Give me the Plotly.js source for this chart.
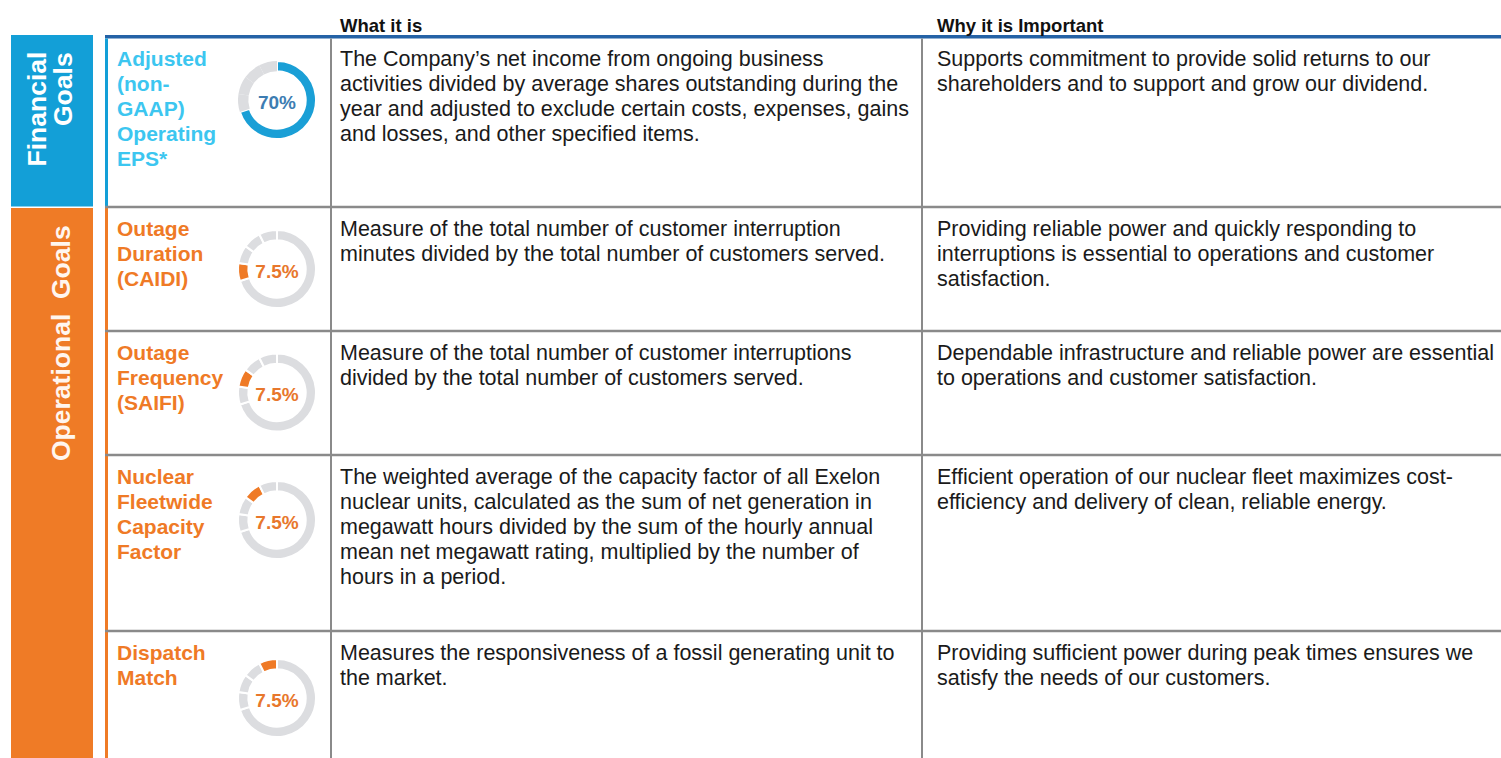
<!DOCTYPE html>
<html><head><meta charset="utf-8">
<script src="https://cdn.plot.ly/plotly-3.0.1.min.js"></script>
<style>html,body{margin:0;padding:0;background:#fff;}#chart{width:1501px;height:758px;}</style>
</head><body><div id="chart"></div>
<script>
// ---------- DATA ----------
const groups = ['Financial Goals', 'Operational Goals'];
const headers = ['What it is', 'Why it is Important'];
const metrics = ['Adjusted (non-GAAP) Operating EPS*', 'Outage Duration (CAIDI)', 'Outage Frequency (SAIFI)', 'Nuclear Fleetwide Capacity Factor', 'Dispatch Match'];
const weights = [70, 7.5, 7.5, 7.5, 7.5];
const weightLabels = ['70%', '7.5%', '7.5%', '7.5%', '7.5%'];
const metricGroup = [0, 1, 1, 1, 1];
const labelLines = [
  ['Adjusted', '(non-', 'GAAP)', 'Operating', 'EPS*'],
  ['Outage', 'Duration', '(CAIDI)'],
  ['Outage', 'Frequency', '(SAIFI)'],
  ['Nuclear', 'Fleetwide', 'Capacity', 'Factor'],
  ['Dispatch', 'Match']
];
const whatLines = [
  ['The Company\u2019s net income from ongoing business', 'activities divided by average shares outstanding during the', 'year and adjusted to exclude certain costs, expenses, gains', 'and losses, and other specified items.'],
  ['Measure of the total number of customer interruption', 'minutes divided by the total number of customers served.'],
  ['Measure of the total number of customer interruptions', 'divided by the total number of customers served.'],
  ['The weighted average of the capacity factor of all Exelon', 'nuclear units, calculated as the sum of net generation in', 'megawatt hours divided by the sum of the hourly annual', 'mean net megawatt rating, multiplied by the number of', 'hours in a period.'],
  ['Measures the responsiveness of a fossil generating unit to', 'the market.']
];
const whyLines = [
  ['Supports commitment to provide solid returns to our', 'shareholders and to support and grow our dividend.'],
  ['Providing reliable power and quickly responding to', 'interruptions is essential to operations and customer', 'satisfaction.'],
  ['Dependable infrastructure and reliable power are essential', 'to operations and customer satisfaction.'],
  ['Efficient operation of our nuclear fleet maximizes cost-', 'efficiency and delivery of clean, reliable energy.'],
  ['Providing sufficient power during peak times ensures we', 'satisfy the needs of our customers.']
];

// ---------- LAYOUT / STYLE ----------
const W = 1501, H = 758;
const px = x => x / W;
const py = y => 1 - y / H;
const FONT = '"Liberation Sans", Arial, sans-serif';
const groupColor = ['#139fd7', '#ef7b26'];
const labelColor = ['#3cc6f0', '#ef7a26'];
const donutAccent = ['#1a9fd6', '#ef7a26'];
const donutText = ['#3d7db2', '#e8772c'];
const GRAY = '#dcdde0';
const LINE = '#8a8a8a';
const TEXT = '#1a1a1a';

const rowTops = [37, 207, 331, 455, 631];
const donutCY = [100, 269, 392.5, 520, 698];
const donutCX = 277, donutR = 39;
const labelX = 117, whatX = 340, whyX = 937;
const BODY = 21.5, LABEL = 21, HEAD = 18.5, LH = 25, SIDE = 26.5;

const shapes = [];
const annotations = [];
function rect(x0, y0, x1, y1, color) {
  shapes.push({type: 'rect', xref: 'paper', yref: 'paper', x0: px(x0), x1: px(x1), y0: py(y1), y1: py(y0), fillcolor: color, line: {width: 0}, layer: 'below'});
}
function textLine(x, baseline, txt, size, color, bold) {
  annotations.push({
    xref: 'paper', yref: 'paper', x: px(x), y: py(baseline - 0.905 * size),
    xanchor: 'left', yanchor: 'top', showarrow: false, borderpad: 0, borderwidth: 0,
    text: bold ? '<b>' + txt + '</b>' : txt,
    font: {family: FONT, size: size, color: color, weight: bold ? 'bold' : 'normal'}
  });
}
function sideText(x, y, yanchor, txt, color) {
  annotations.push({xref: 'paper', yref: 'paper', x: px(x), y: py(y), xanchor: 'center', yanchor: yanchor, textangle: -90,
    showarrow: false, borderpad: 0, borderwidth: 0, text: '<b>' + txt + '</b>',
    font: {family: FONT, size: SIDE, color: color, weight: 'bold'}});
}

// side bars
rect(11, 35, 93, 206.5, groupColor[0]);
rect(11, 208, 93, 758, groupColor[1]);
// top rule
rect(105, 35, 1501, 38.5, '#2462a6');
// left accent lines
rect(105, 38.5, 108, 207, groupColor[0]);
rect(105, 207, 108, 758, groupColor[1]);
// horizontal row lines
rowTops.slice(1).forEach(y => rect(105, y - 1.2, 1501, y + 1.2, LINE));
// vertical column lines
[331, 922].forEach(x => rect(x - 1, 38.5, x + 1, 758, LINE));

// side bar titles
const g0 = groups[0].split(' ');
sideText(37, 52, 'top', g0[0], '#ffffff');
sideText(63, 52, 'top', g0[1], '#ffffff');
sideText(61, 343, 'middle', groups[1].replace(' ', '\u00a0\u00a0'), '#fff6ef');

// headers
textLine(340, 31.5, headers[0], HEAD, '#111111', true);
textLine(937, 31.5, headers[1], HEAD, '#111111', true);

// rows
const traces = [];
metrics.forEach((m, i) => {
  const base = rowTops[i] + 29;
  const g = metricGroup[i];
  labelLines[i].forEach((t, k) => textLine(labelX, base + k * LH, t, LABEL, labelColor[g], true));
  whatLines[i].forEach((t, k) => textLine(whatX, base + k * LH, t, BODY, TEXT, false));
  whyLines[i].forEach((t, k) => textLine(whyX, base + k * LH, t, BODY, TEXT, false));

  const cy = donutCY[i];
  traces.push({
    type: 'pie', values: weights, labels: metrics, sort: false, direction: 'clockwise', rotation: 0,
    hole: 0.736, textinfo: 'none', hoverinfo: 'skip', showlegend: false,
    marker: {
      colors: weights.map((_, j) => j === i ? donutAccent[g] : GRAY),
      line: {color: '#ffffff', width: weights.map((_, j) => i === 0 ? (j === 0 ? 2 : 0) : 2)}
    },
    domain: {x: [px(donutCX - donutR), px(donutCX + donutR)], y: [py(cy + donutR), py(cy - donutR)]},
    title: {text: '<b>' + weightLabels[i] + '</b>', position: 'middle center', font: {family: FONT, size: 19, color: donutText[g], weight: 'bold'}}
  });
});

const layout = {
  width: W, height: H, margin: {l: 0, r: 0, t: 0, b: 0, pad: 0},
  paper_bgcolor: '#ffffff', plot_bgcolor: '#ffffff', showlegend: false,
  shapes: shapes, annotations: annotations
};
Plotly.newPlot('chart', traces, layout, {staticPlot: true, displayModeBar: false});
</script>
</body></html>
